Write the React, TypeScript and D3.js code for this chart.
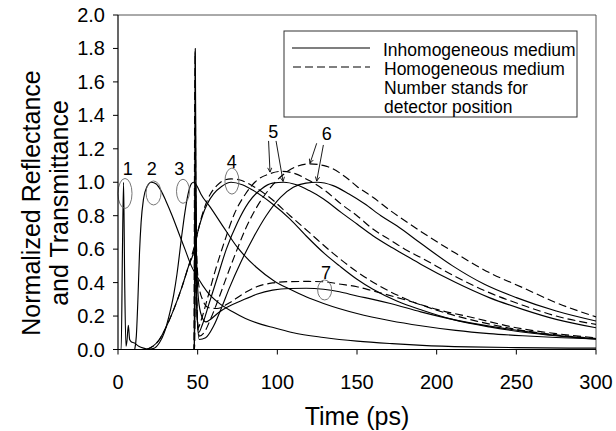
import React from 'react';
import * as d3 from 'd3';

const X_TICKS = [0, 50, 100, 150, 200, 250, 300];
const Y_TICKS = [0, 0.2, 0.4, 0.6, 0.8, 1.0, 1.2, 1.4, 1.6, 1.8, 2.0];

// Detector 1 (inhomogeneous)
const T1 = [0, 2, 2.8, 3.5, 4.2, 5, 5.6, 6.5, 7.3, 8.5, 10, 13, 16, 20];
const V1 = [0, 0, 0.6, 1.0, 0.4, 0.02, 0.05, 0.145, 0.06, 0.045, 0.04, 0.02, 0.008, 0];
// Detector 2
const T2 = [10.5, 11.5, 12.5, 13.5, 14.5, 16, 18, 21, 24, 27, 30, 34, 38, 42, 46, 50, 56, 63, 72, 80, 90, 98, 110, 129, 150, 172, 191, 220, 250, 300];
const V2 = [0, 0.08, 0.3, 0.58, 0.76, 0.9, 0.97, 1.0, 0.99, 0.95, 0.89, 0.8, 0.7, 0.6, 0.5, 0.43, 0.345, 0.28, 0.225, 0.185, 0.15, 0.13, 0.1, 0.072, 0.05, 0.035, 0.025, 0.016, 0.011, 0.008];
// Detector 3
const T3 = [18, 22, 26, 29, 32, 35, 37, 40, 42, 44, 46, 47.5, 50, 52, 58, 66, 75, 87, 98, 108, 118, 129, 150, 171, 190, 212, 233, 254, 275, 300];
const V3 = [0, 0.005, 0.04, 0.1, 0.2, 0.33, 0.45, 0.68, 0.82, 0.93, 0.99, 1.0, 0.97, 0.93, 0.85, 0.735, 0.61, 0.49, 0.41, 0.36, 0.315, 0.275, 0.215, 0.172, 0.142, 0.114, 0.095, 0.082, 0.072, 0.063];
// Detector 4 inhomogeneous / homogeneous
const T4S = [18, 22, 26, 30, 35, 40, 44, 48, 50, 53, 56, 60, 65, 71, 78, 85, 97, 108, 118, 130, 139, 150, 160, 175, 191, 210, 233, 260, 280, 300];
const V4S = [0, 0.02, 0.06, 0.13, 0.24, 0.37, 0.49, 0.6, 0.7, 0.8, 0.87, 0.93, 0.975, 1.0, 0.985, 0.95, 0.87, 0.78, 0.68, 0.57, 0.5, 0.42, 0.36, 0.29, 0.235, 0.18, 0.135, 0.097, 0.077, 0.062];
const T4D = [18, 22, 26, 30, 35, 40, 44, 48, 51, 54, 58, 62, 66, 71, 76, 85, 95, 108, 120, 135, 150, 165, 180, 200, 225, 250, 275, 300];
const V4D = [0, 0.02, 0.06, 0.13, 0.24, 0.37, 0.49, 0.62, 0.74, 0.84, 0.93, 0.98, 1.01, 1.02, 1.015, 0.975, 0.91, 0.8, 0.7, 0.575, 0.465, 0.375, 0.305, 0.235, 0.17, 0.12, 0.088, 0.066];
// Detector 5
const T5S = [46, 48, 48.6, 49.3, 50.5, 53, 57, 62, 68, 75, 82, 90, 97, 104, 112, 120, 129, 140, 150, 160, 170, 180, 190, 212, 233, 254, 275, 300];
const V5S = [0, 0, 0.98, 0.3, 0.1, 0.15, 0.27, 0.42, 0.6, 0.76, 0.88, 0.96, 0.995, 1.0, 0.985, 0.95, 0.9, 0.82, 0.75, 0.68, 0.62, 0.565, 0.51, 0.4, 0.31, 0.24, 0.18, 0.13];
const T5D = [46, 48, 48.5, 49.2, 50.3, 52, 56, 61, 67, 73, 80, 87, 95, 102, 110, 120, 130, 140, 150, 160, 170, 180, 190, 212, 233, 254, 275, 300];
const V5D = [0, 0, 1.0, 0.35, 0.13, 0.17, 0.3, 0.47, 0.65, 0.81, 0.93, 1.01, 1.05, 1.065, 1.055, 1.01, 0.95, 0.87, 0.8, 0.72, 0.66, 0.6, 0.55, 0.435, 0.34, 0.265, 0.2, 0.15];
// Detector 6
const T6S = [46, 48, 48.7, 49.5, 51, 55, 60, 65, 70, 77, 85, 93, 102, 110, 118, 125, 135, 145, 155, 165, 175, 190, 210, 230, 250, 275, 300];
const V6S = [0, 0, 0.93, 0.25, 0.06, 0.07, 0.14, 0.25, 0.37, 0.52, 0.67, 0.8, 0.91, 0.97, 0.995, 1.0, 0.98, 0.93, 0.87, 0.8, 0.74, 0.635, 0.5, 0.39, 0.31, 0.23, 0.17];
const T6D = [46, 48, 48.6, 49.4, 51, 54, 58, 63, 68, 74, 80, 87, 95, 103, 111, 120, 131, 143, 150, 160, 171, 177, 191, 212, 233, 254, 275, 300];
const V6D = [0, 0, 0.97, 0.3, 0.08, 0.1, 0.18, 0.3, 0.43, 0.58, 0.72, 0.85, 0.96, 1.04, 1.09, 1.11, 1.095, 1.03, 0.975, 0.91, 0.83, 0.79, 0.7, 0.575, 0.46, 0.37, 0.28, 0.195];
// Detector 7
const T7S = [46, 47.8, 48.5, 49.2, 50.5, 52.5, 55, 58, 63, 70, 77, 87, 97, 108, 118, 129, 139, 150, 160, 171, 190, 212, 233, 254, 275, 300];
const V7S = [0, 0, 1.8, 0.6, 0.3, 0.2, 0.165, 0.18, 0.22, 0.26, 0.29, 0.33, 0.355, 0.365, 0.366, 0.36, 0.345, 0.32, 0.3, 0.275, 0.225, 0.176, 0.14, 0.11, 0.085, 0.065];
const T7D = [46, 47.6, 48.3, 49.0, 50.5, 53, 57, 62, 70, 78, 87, 97, 108, 118, 129, 140, 150, 160, 181, 200, 223, 250, 275, 300];
const V7D = [0, 0, 1.78, 0.7, 0.4, 0.3, 0.25, 0.245, 0.28, 0.33, 0.375, 0.398, 0.406, 0.407, 0.405, 0.39, 0.375, 0.35, 0.295, 0.24, 0.19, 0.13, 0.095, 0.07];

const SERIES = [
  { t: T1, v: V1, dashed: false },
  { t: T2, v: V2, dashed: false },
  { t: T3, v: V3, dashed: false },
  { t: T4S, v: V4S, dashed: false },
  { t: T4D, v: V4D, dashed: true },
  { t: T5S, v: V5S, dashed: false },
  { t: T5D, v: V5D, dashed: true },
  { t: T6S, v: V6S, dashed: false },
  { t: T6D, v: V6D, dashed: true },
  { t: T7S, v: V7S, dashed: false },
  { t: T7D, v: V7D, dashed: true },
];

// Annotation ellipses: centre (t, value) and radii in px
const ELLIPSES = [
  { t: 4.4, v: 0.933, rx: 7, ry: 15 },
  { t: 22.3, v: 0.936, rx: 7.5, ry: 12 },
  { t: 40.8, v: 0.946, rx: 6.5, ry: 12 },
  { t: 71.5, v: 1.007, rx: 7, ry: 13 },
  { t: 129.7, v: 0.356, rx: 7, ry: 10 },
];
const LABELS = [
  { t: 6.1, v: 1.077, s: '1' },
  { t: 21.2, v: 1.077, s: '2' },
  { t: 38.5, v: 1.077, s: '3' },
  { t: 71.4, v: 1.123, s: '4' },
  { t: 97.5, v: 1.3, s: '5' },
  { t: 131, v: 1.289, s: '6' },
  { t: 130.5, v: 0.456, s: '7' },
];
const ARROWS = [
  { t0: 94.5, v0: 1.247, t1: 95.4, v1: 1.061 },
  { t0: 99.2, v0: 1.247, t1: 103.6, v1: 1.005 },
  { t0: 124.7, v0: 1.233, t1: 120.5, v1: 1.113 },
  { t0: 128.9, v0: 1.223, t1: 124.7, v1: 1.007 },
];

const FONT = "'Liberation Sans', Arial, Helvetica, sans-serif";

export default function App() {
  const W = 616, H = 431;
  const x = d3.scaleLinear().domain([0, 300]).range([118, 596]);
  const y = d3.scaleLinear().domain([0, 2]).range([349.5, 15]);
  const line = d3.line<[number, number]>()
    .x(d => x(d[0]))
    .y(d => y(d[1]))
    .curve(d3.curveMonotoneX);

  const x0 = x.range()[0], x1 = x.range()[1];
  const y0 = y.range()[0], y1 = y.range()[1];

  return (
    <svg width={W} height={H} style={{ position: 'absolute', left: 0, top: 0, background: '#fff' }} fontFamily={FONT}>
      <defs>
        <marker id="arr" viewBox="0 0 10 10" refX="9" refY="5" markerWidth="6" markerHeight="6" orient="auto">
          <path d="M1,1 L9,5 L1,9" fill="none" stroke="#000" strokeWidth="1.5" />
        </marker>
      </defs>
      <rect x={0} y={0} width={W} height={H} fill="#fff" />
      {/* frame */}
      <line x1={x0} y1={y1} x2={x1} y2={y1} stroke="#555" strokeWidth={1} />
      <line x1={x1} y1={y1} x2={x1} y2={y0} stroke="#555" strokeWidth={1} />
      {/* curves */}
      {SERIES.map((s, i) => (
        <path key={i}
          d={line(s.t.map((t, j) => [t, s.v[j]] as [number, number])) || ''}
          fill="none" stroke="#000" strokeWidth={1.15}
          strokeDasharray={s.dashed ? '8,4' : undefined} />
      ))}
      {/* ellipses */}
      {ELLIPSES.map((e, i) => (
        <ellipse key={i} cx={x(e.t)} cy={y(e.v)} rx={e.rx} ry={e.ry} fill="none" stroke="#666" strokeWidth={0.9} />
      ))}
      {LABELS.map((l, i) => (
        <text key={i} x={x(l.t)} y={y(l.v)} fontSize={18} textAnchor="middle" dominantBaseline="central" fill="#000">{l.s}</text>
      ))}
      {ARROWS.map((a, i) => (
        <line key={i} x1={x(a.t0)} y1={y(a.v0)} x2={x(a.t1)} y2={y(a.v1)} stroke="#000" strokeWidth={0.9} markerEnd="url(#arr)" />
      ))}
      {/* axes */}
      <line x1={x0} y1={y0} x2={x1} y2={y0} stroke="#000" strokeWidth={1.2} />
      <line x1={x0} y1={y0} x2={x0} y2={y1} stroke="#000" strokeWidth={1.2} />
      {X_TICKS.map(t => (
        <g key={t}>
          <line x1={x(t)} x2={x(t)} y1={y0} y2={y0 + 5} stroke="#000" strokeWidth={1} />
          <text x={x(t)} y={389} fontSize={20} textAnchor="middle" fill="#000">{t}</text>
        </g>
      ))}
      {Y_TICKS.map(v => (
        <g key={v}>
          <line x1={x0 - 5} x2={x0} y1={y(v)} y2={y(v)} stroke="#000" strokeWidth={1} />
          <text x={105} y={y(v)} fontSize={20} textAnchor="end" dominantBaseline="central" fill="#000">{v.toFixed(1)}</text>
        </g>
      ))}
      {/* axis titles */}
      <text x={357} y={425} fontSize={25} textAnchor="middle" fill="#000">Time (ps)</text>
      <text transform="translate(40,203) rotate(-90)" fontSize={25} textAnchor="middle" fill="#000">Normalized Reflectance</text>
      <text transform="translate(68,203) rotate(-90)" fontSize={25} textAnchor="middle" fill="#000">and Transmittance</text>
      {/* legend */}
      <rect x={284} y={31} width={293} height={86} fill="#fff" stroke="#333" strokeWidth={1} />
      <line x1={292} x2={370} y1={48} y2={48} stroke="#000" strokeWidth={1.1} />
      <line x1={293} x2={370} y1={67} y2={67} stroke="#000" strokeWidth={1.1} strokeDasharray="8,4" />
      <text x={383} y={56} fontSize={17.5} fill="#000">Inhomogeneous medium</text>
      <text x={384} y={75} fontSize={17.5} fill="#000">Homogeneous medium</text>
      <text x={384} y={94} fontSize={17.5} fill="#000">Number stands for</text>
      <text x={384} y={113} fontSize={17.5} fill="#000">detector position</text>
    </svg>
  );
}
